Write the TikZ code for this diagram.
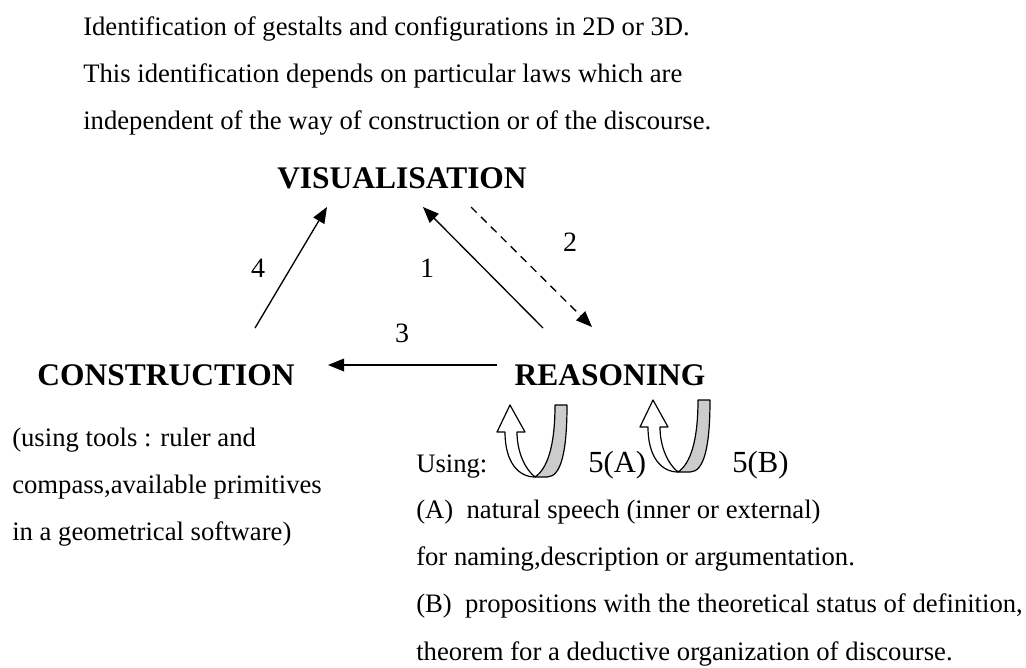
\documentclass[tikz,border=0pt]{standalone}
\usepackage{fontspec}
\setmainfont{Liberation Serif}
\usetikzlibrary{arrows.meta}

\tikzset{
  body/.style={inner sep=0pt, anchor=base west, font=\fontsize{20}{24}\selectfont},
  head/.style={inner sep=0pt, anchor=base, font=\fontsize{23.6}{28}\selectfont\bfseries},
  num/.style={inner sep=0pt, font=\fontsize{21}{25}\selectfont},
  link/.style={line width=1pt, -{Triangle[length=12pt,width=9.5pt]}},
}

\begin{document}
\begin{tikzpicture}[x=0.75pt,y=0.75pt,yscale=-1,xscale=1]
\useasboundingbox (0,0) rectangle (1026,668);

% Text Node
\node[body] (top1) at (83,35) {Identification of gestalts and configurations in 2D or 3D.};
% Text Node
\node[body] (top2) at (83,82) {This identification depends on particular laws which are};
% Text Node
\node[body] (top3) at (83,129) {independent of the way of construction or of the discourse.};

% Text Node
\node[head] (vis) at (402,188) {VISUALISATION};
% Text Node
\node[head] (cons) at (166,385) {CONSTRUCTION};
% Text Node
\node[head] (reas) at (610,385) {REASONING};

%Arrow ends
\coordinate (c4) at (255,328);
\coordinate (v4) at (327,207);
\coordinate (r1) at (543,328);
\coordinate (v1) at (423,207);
\coordinate (v2) at (471,207);
\coordinate (r2) at (592,327);
\coordinate (r3) at (497,365);
\coordinate (c3) at (328,365);

%Straight Lines
\draw[link] (c4) -- (v4);
\draw[link] (r1) -- (v1);
\draw[link, dash pattern=on 6pt off 4.5pt] (v2) -- (r2);
\draw[link] (r3) -- (c3);

% Text Node
\node[num] (n4) at (258,268) {4};
\node[num] (n1) at (427,268) {1};
\node[num] (n2) at (570,242) {2};
\node[num] (n3) at (402,333) {3};

% Text Node
\node[body] (use1) at (12,446) {(using tools : ruler and};
\node[body] (use2) at (12,493) {compass,available primitives};
\node[body] (use3) at (12,540) {in a geometrical software)};

% Text Node
\node[body] (using) at (416,472) {Using:};
\node[body, font=\fontsize{23}{27}\selectfont] (fa) at (588,472) {5(A)};
\node[body, font=\fontsize{23}{27}\selectfont] (fb) at (732,472) {5(B)};

%Shape: U-turn arrows
\foreach \lx/\ly in {535/477, 678/472}{
  \begin{scope}[shift={(\lx,\ly)}, line width=0.9pt, line join=round]
    \draw[fill=white] (-18,-45) -- (-10,-45) -- (-25,-72) -- (-38,-45) -- (-30,-45)
      .. controls (-30,-14) and (-16,0) .. (0,0)
      .. controls (-10,-8) and (-18,-25) .. cycle;
    \draw[fill=black!20] (20,-72) -- (32,-72)
      .. controls (32,-25) and (26,0) .. (12,0) -- (0,0)
      .. controls (12,-8) and (20,-30) .. cycle;
  \end{scope}
}

% Text Node
\node[body] (pa1) at (416,518) {(A)~ natural speech (inner or external)};
\node[body] (pa2) at (416,565) {for naming,description or argumentation.};
\node[body] (pb1) at (416,612) {(B)~ propositions with the theoretical status of definition,};
\node[body] (pb2) at (416,660) {theorem for a deductive organization of discourse.};

\end{tikzpicture}
\end{document}
